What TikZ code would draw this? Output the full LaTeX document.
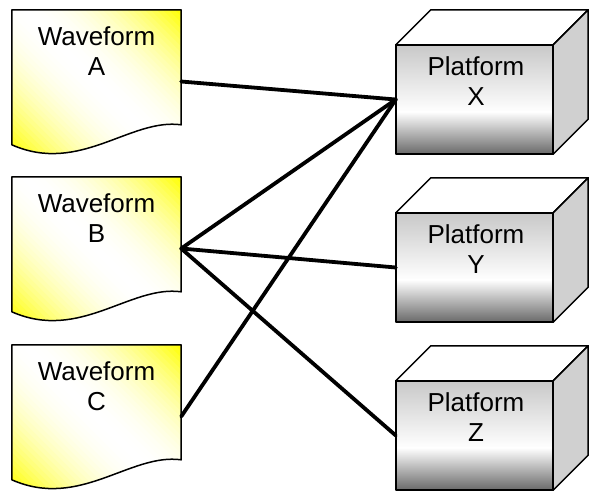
\documentclass[tikz,border=0pt]{standalone}
\usepackage{fontspec}
\setmainfont{Liberation Sans}
\usetikzlibrary{calc}
\definecolor{wyellow}{RGB}{255,255,0}
\definecolor{ftop}{RGB}{200,200,200}
\definecolor{fbot}{RGB}{105,105,105}
\definecolor{rside}{RGB}{208,208,208}
\tikzset{
  wavebox/.style={rectangle, inner sep=0pt, minimum width=169pt, minimum height=143pt},
  platbox/.style={rectangle, inner sep=0pt, minimum width=157pt, minimum height=109pt},
  outline/.style={draw=black, line width=1.5pt, line join=round},
  lbl/.style={align=center, inner sep=0pt, anchor=north, font=\fontsize{26}{30}\selectfont},
  conn/.style={draw=black, line width=3.8pt, line cap=round},
}
% #1 node name, #2 top y (pixel coordinates)
\newcommand\drawwave[2]{%
  \begin{scope}
  \clip (#1.north west) -- (#1.north east) -- ([yshift=-115pt]#1.north east)
    .. controls ([xshift=-51pt,yshift=-108pt]#1.north east) and ([xshift=68pt,yshift=-165pt]#1.north west)
    .. ([yshift=-135pt]#1.north west) -- cycle;
  \foreach \i in {0,...,51}{%
    \pgfmathsetmacro\cA{\i*312/52-#2-131}%
    \pgfmathsetmacro\cB{(\i+1)*312/52+0.8-#2-131}%
    \pgfmathsetmacro\yA{#2-10}%
    \pgfmathsetmacro\yB{#2+160}%
    \pgfmathsetmacro\tt{abs(2*(\i+0.5)/52-1)}%
    \pgfmathsetmacro\pct{100*\tt^2}%
    \fill[wyellow!\pct!white] (\cA+\yA,\yA) -- (\cA+\yB,\yB) -- (\cB+\yB,\yB) -- (\cB+\yA,\yA) -- cycle;
  }
  \end{scope}
  \path[outline] (#1.north west) -- (#1.north east) -- ([yshift=-115pt]#1.north east)
    .. controls ([xshift=-51pt,yshift=-108pt]#1.north east) and ([xshift=68pt,yshift=-165pt]#1.north west)
    .. ([yshift=-135pt]#1.north west) -- cycle;
}
\newcommand\drawcube[1]{%
  \fill[top color=ftop, bottom color=white] (#1.north west) rectangle ([yshift=42pt]#1.south east);
  \fill[top color=white, bottom color=fbot] ([yshift=42.5pt]#1.south west) rectangle (#1.south east);
  \path[outline] (#1.north west) rectangle (#1.south east);
  \path[outline, fill=white] (#1.north west) -- ++(35,-35) -- ([xshift=35pt,yshift=35pt]#1.north east) -- (#1.north east) -- cycle;
  \path[outline, fill=rside] (#1.north east) -- ++(35,-35) -- ([xshift=35pt,yshift=35pt]#1.south east) -- (#1.south east) -- cycle;
}
\begin{document}
\begin{tikzpicture}[x=1pt, y=-1pt]
\useasboundingbox[fill=white] (0,0) rectangle (592,491);
% invisible shape nodes
\node[wavebox] (A) at (96.5,81.5) {};
\node[wavebox] (B) at (96.5,248.5) {};
\node[wavebox] (C) at (96.5,416.5) {};
\node[platbox] (X) at (474.5,99.5) {};
\node[platbox] (Y) at (474.5,267.5) {};
\node[platbox] (Z) at (474.5,435.5) {};
% shapes
\drawwave{A}{10}
\drawwave{B}{177}
\drawwave{C}{345}
\drawcube{X}
\drawcube{Y}
\drawcube{Z}
% labels
\node[lbl] (At) at (96.5,26.5) {Waveform\\A};
\node[lbl] (Bt) at (96.5,193.5) {Waveform\\B};
\node[lbl] (Ct) at (96.5,361.5) {Waveform\\C};
\node[lbl] (Xt) at (476,56.5) {Platform\\X};
\node[lbl] (Yt) at (476,224.5) {Platform\\Y};
\node[lbl] (Zt) at (476,392.5) {Platform\\Z};
% connectors
\draw[conn] (A.east) -- (X.west);
\draw[conn] (B.east) -- (X.west);
\draw[conn] (C.east) -- (X.west);
\draw[conn] (B.east) -- (Y.west);
\draw[conn] (B.east) -- (Z.west);
\end{tikzpicture}
\end{document}
